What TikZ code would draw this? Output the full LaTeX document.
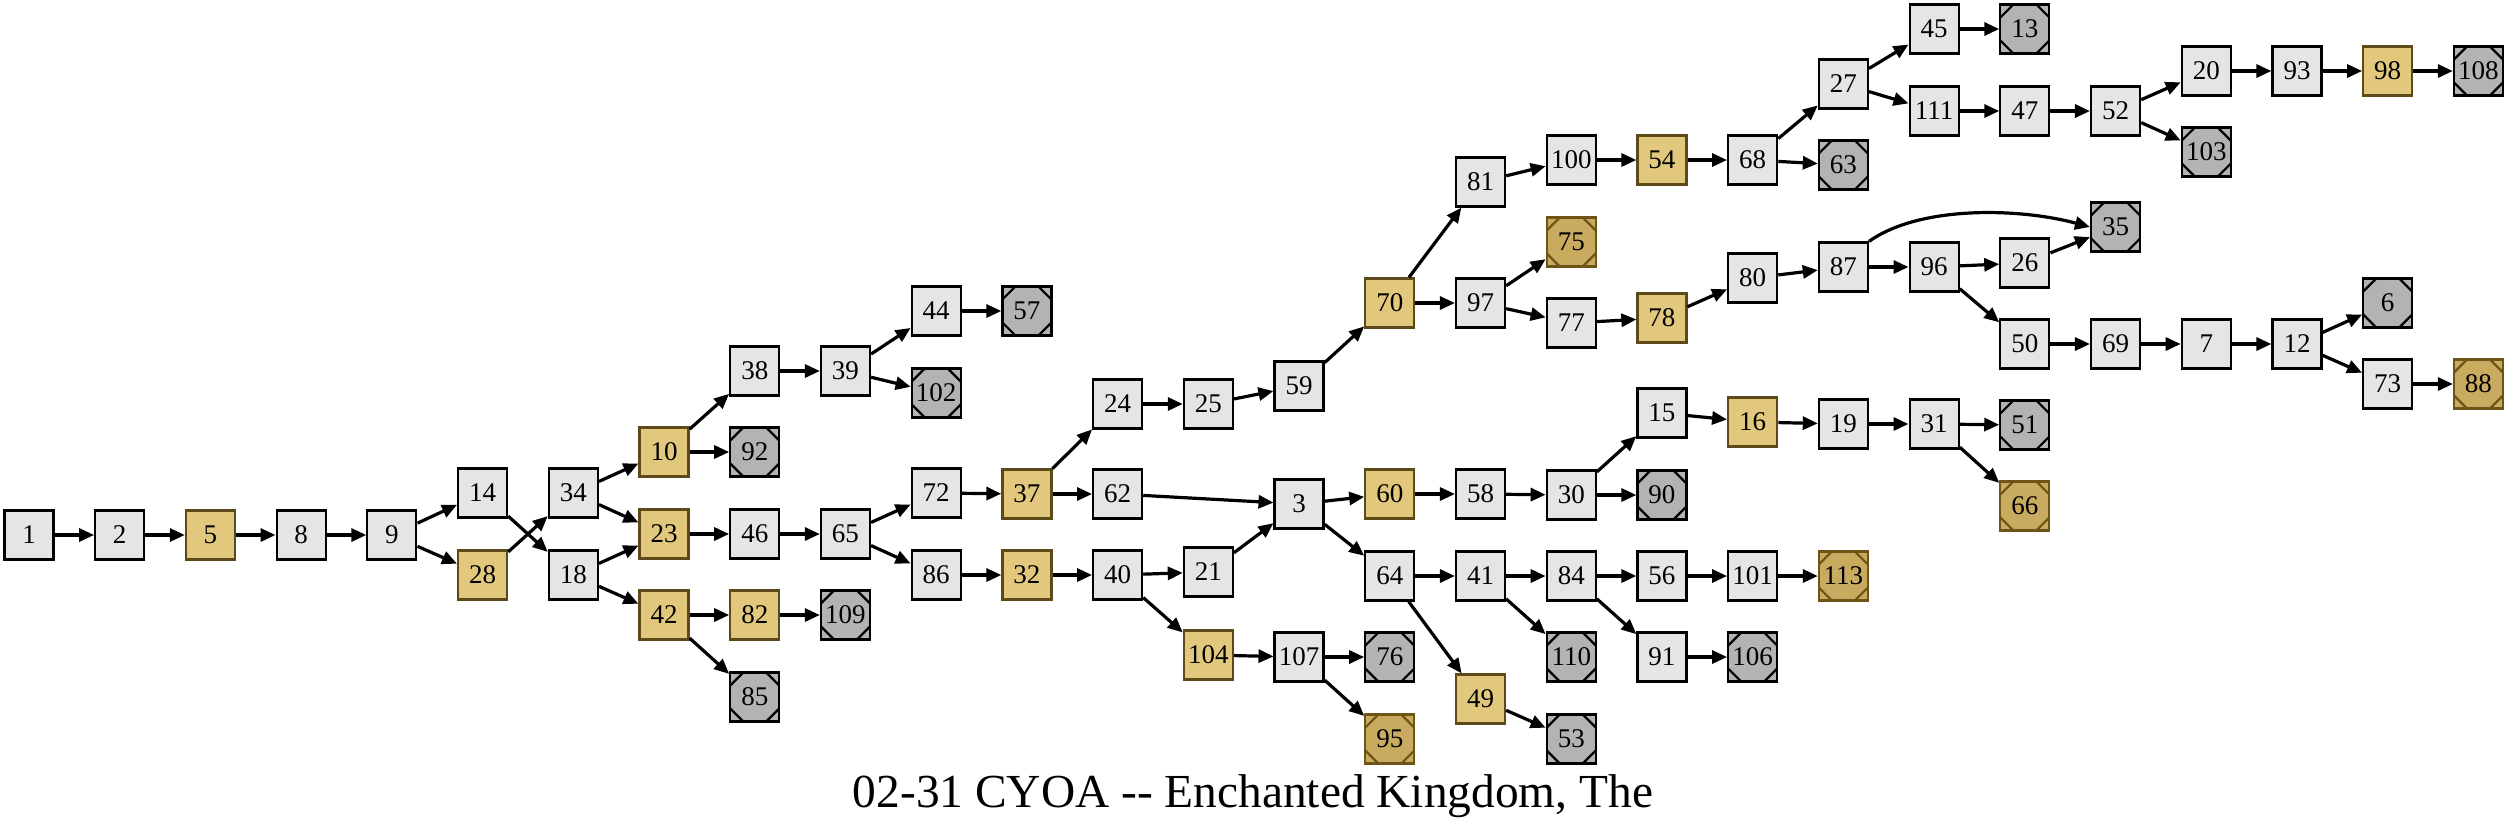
\documentclass[tikz,border=0pt]{standalone}
\usepackage{fontspec}
\setmainfont{Liberation Serif}
\usetikzlibrary{arrows.meta}
\definecolor{boxgray}{HTML}{E5E5E5}
\definecolor{boxgold}{HTML}{E1C87D}
\definecolor{golddraw}{HTML}{5C4A18}
\definecolor{endgray}{HTML}{B3B3B3}
\definecolor{endgold}{HTML}{C9AB60}
\definecolor{endgolddraw}{HTML}{6E5416}
\tikzset{
  basebox/.style={rectangle, minimum size=24.5pt, inner sep=0pt, line width=1.1pt,
    font=\fontsize{13.5pt}{15pt}\selectfont},
  plainbox/.style={basebox, draw=black, fill=boxgray},
  goldbox/.style={basebox, draw=golddraw, fill=boxgold},
  cornercuts/.style={path picture={
    \draw[line width=1.1pt, #1]
      ([yshift=-6.5pt]path picture bounding box.north west) -- ([xshift=6.5pt]path picture bounding box.north west)
      ([xshift=-6.5pt]path picture bounding box.north east) -- ([yshift=-6.5pt]path picture bounding box.north east)
      ([yshift=6.5pt]path picture bounding box.south west) -- ([xshift=6.5pt]path picture bounding box.south west)
      ([xshift=-6.5pt]path picture bounding box.south east) -- ([yshift=6.5pt]path picture bounding box.south east);}},
  endgraybox/.style={basebox, draw=black, fill=endgray, cornercuts=black},
  endgoldbox/.style={basebox, draw=endgolddraw, fill=endgold, cornercuts=endgolddraw},
  edgeline/.style={-{Triangle[length=7.5pt,width=6.5pt]}, line width=1.6pt, black},
}
\newcommand\placenode[4]{\node[#4] (n#1) at ({29+90.72*#2},#3) {#1};}
\begin{document}
\begin{tikzpicture}[x=0.5pt,y=-0.5pt]
\useasboundingbox (0,0) rectangle (2507,827);
\placenode{1}{0}{535}{plainbox}
\placenode{2}{1}{535}{plainbox}
\placenode{5}{2}{535}{goldbox}
\placenode{8}{3}{535}{plainbox}
\placenode{9}{4}{535}{plainbox}
\placenode{14}{5}{493}{plainbox}
\placenode{28}{5}{575}{goldbox}
\placenode{34}{6}{493}{plainbox}
\placenode{18}{6}{575}{plainbox}
\placenode{10}{7}{452}{goldbox}
\placenode{23}{7}{534}{goldbox}
\placenode{42}{7}{615}{goldbox}
\placenode{38}{8}{371}{plainbox}
\placenode{92}{8}{452}{endgraybox}
\placenode{46}{8}{534}{plainbox}
\placenode{82}{8}{615}{goldbox}
\placenode{85}{8}{697}{endgraybox}
\placenode{39}{9}{371}{plainbox}
\placenode{65}{9}{534}{plainbox}
\placenode{109}{9}{615}{endgraybox}
\placenode{44}{10}{311}{plainbox}
\placenode{102}{10}{393}{endgraybox}
\placenode{72}{10}{493}{plainbox}
\placenode{86}{10}{575}{plainbox}
\placenode{57}{11}{311}{endgraybox}
\placenode{37}{11}{494}{goldbox}
\placenode{32}{11}{575}{goldbox}
\placenode{24}{12}{404}{plainbox}
\placenode{62}{12}{494}{plainbox}
\placenode{40}{12}{575}{plainbox}
\placenode{25}{13}{404}{plainbox}
\placenode{21}{13}{572}{plainbox}
\placenode{104}{13}{655}{goldbox}
\placenode{59}{14}{386}{plainbox}
\placenode{3}{14}{504}{plainbox}
\placenode{107}{14}{657}{plainbox}
\placenode{70}{15}{303}{goldbox}
\placenode{60}{15}{494}{goldbox}
\placenode{64}{15}{576}{plainbox}
\placenode{76}{15}{657}{endgraybox}
\placenode{95}{15}{739}{endgoldbox}
\placenode{81}{16}{182}{plainbox}
\placenode{97}{16}{303}{plainbox}
\placenode{58}{16}{494}{plainbox}
\placenode{41}{16}{576}{plainbox}
\placenode{49}{16}{699}{goldbox}
\placenode{100}{17}{160}{plainbox}
\placenode{75}{17}{242}{endgoldbox}
\placenode{77}{17}{323}{plainbox}
\placenode{30}{17}{495}{plainbox}
\placenode{84}{17}{576}{plainbox}
\placenode{110}{17}{657}{endgraybox}
\placenode{53}{17}{739}{endgraybox}
\placenode{54}{18}{160}{goldbox}
\placenode{78}{18}{318}{goldbox}
\placenode{15}{18}{413}{plainbox}
\placenode{90}{18}{495}{endgraybox}
\placenode{56}{18}{576}{plainbox}
\placenode{91}{18}{657}{plainbox}
\placenode{68}{19}{160}{plainbox}
\placenode{80}{19}{278}{plainbox}
\placenode{16}{19}{422}{goldbox}
\placenode{101}{19}{576}{plainbox}
\placenode{106}{19}{657}{endgraybox}
\placenode{27}{20}{84}{plainbox}
\placenode{63}{20}{165}{endgraybox}
\placenode{87}{20}{267}{plainbox}
\placenode{19}{20}{424}{plainbox}
\placenode{113}{20}{576}{endgoldbox}
\placenode{45}{21}{29}{plainbox}
\placenode{111}{21}{111}{plainbox}
\placenode{96}{21}{267}{plainbox}
\placenode{31}{21}{424}{plainbox}
\placenode{13}{22}{29}{endgraybox}
\placenode{47}{22}{111}{plainbox}
\placenode{26}{22}{263}{plainbox}
\placenode{50}{22}{344}{plainbox}
\placenode{51}{22}{425}{endgraybox}
\placenode{66}{22}{506}{endgoldbox}
\placenode{52}{23}{111}{plainbox}
\placenode{35}{23}{227}{endgraybox}
\placenode{69}{23}{344}{plainbox}
\placenode{20}{24}{71}{plainbox}
\placenode{103}{24}{152}{endgraybox}
\placenode{7}{24}{344}{plainbox}
\placenode{93}{25}{71}{plainbox}
\placenode{12}{25}{344}{plainbox}
\placenode{98}{26}{71}{goldbox}
\placenode{6}{26}{303}{endgraybox}
\placenode{73}{26}{384}{plainbox}
\placenode{108}{27}{71}{endgraybox}
\placenode{88}{27}{384}{endgoldbox}
\foreach \a/\b in {1/2, 2/5, 5/8, 8/9, 9/14, 9/28, 14/18, 28/34, 34/10, 34/23, 18/23, 18/42,
  10/38, 10/92, 38/39, 39/44, 39/102, 44/57, 23/46, 46/65, 42/82, 42/85, 82/109,
  65/72, 65/86, 72/37, 86/32, 37/24, 37/62, 24/25, 25/59, 59/70, 62/3, 32/40, 40/21,
  40/104, 21/3, 104/107, 107/76, 107/95, 3/60, 3/64, 60/58, 58/30, 30/15, 30/90,
  15/16, 16/19, 19/31, 31/51, 31/66, 64/41, 64/49, 41/84, 41/110, 84/56, 84/91,
  56/101, 101/113, 91/106, 49/53, 70/81, 70/97, 81/100, 100/54, 54/68, 68/27, 68/63,
  27/45, 27/111, 45/13, 111/47, 47/52, 52/20, 52/103, 20/93, 93/98, 98/108, 97/75,
  97/77, 77/78, 78/80, 80/87, 87/96, 96/26, 96/50, 26/35, 50/69, 69/7, 7/12, 12/6,
  12/73, 73/88}
  \draw[edgeline] (n\a) -- (n\b);
\draw[edgeline] (n87.north east) .. controls (1920,205) and (2020,208) .. (n35.west);
\node[font=\fontsize{23.7pt}{28pt}\selectfont, anchor=base] (title) at (1253,807)
  {02-31 CYOA -{}- Enchanted Kingdom, The};
\end{tikzpicture}
\end{document}
